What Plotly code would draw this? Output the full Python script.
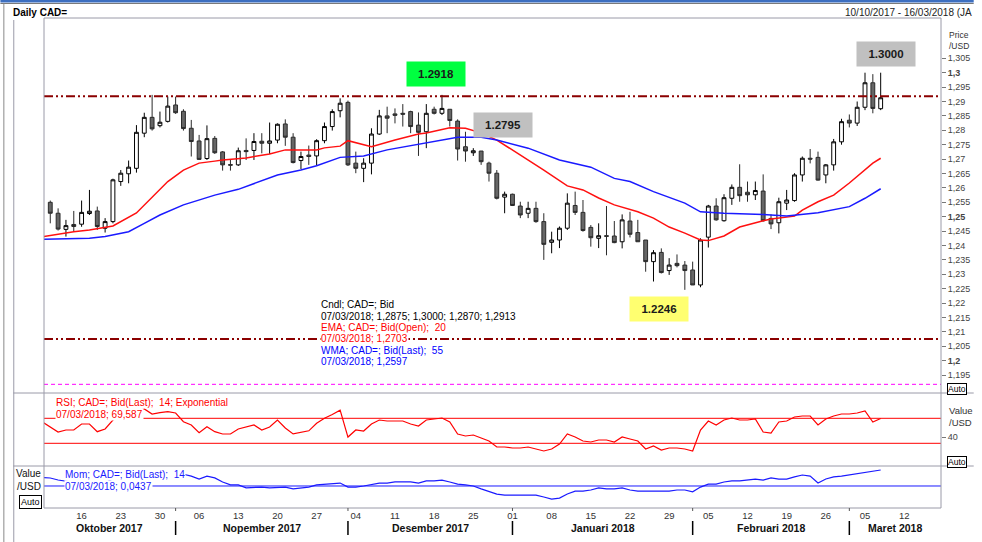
import plotly.graph_objects as go
import pandas as pd

# ---------------- data ----------------
all_days = pd.bdate_range("2017-10-10", "2018-03-16")   # axis spans to 16/03/2018
n_candles = 107                                           # 10/10/2017 .. 07/03/2018

opens = [1.2550,1.2512,1.2456,1.2473,1.2474,1.2511,1.2520,1.2460,1.2483,1.2622,
         1.2649,1.2668,1.2790,1.2845,1.2816,1.2831,1.2888,1.2866,1.2807,1.2763,
         1.2702,1.2772,1.2725,1.2681,1.2680,1.2730,1.2730,1.2762,1.2755,1.2766,
         1.2822,1.2776,1.2695,1.2714,1.2711,1.2764,1.2813,1.2868,1.2897,1.2686,
         1.2668,1.2686,1.2787,1.2850,1.2857,1.2859,1.2865,1.2818,1.2795,1.2873,
         1.2859,1.2873,1.2832,1.2743,1.2722,1.2728,1.2686,1.2651,1.2568,1.2578,
         1.2537,1.2512,1.2529,1.2483,1.2411,1.2419,1.2460,1.2539,1.2515,1.2463,
         1.2425,1.2434,1.2433,1.2413,1.2485,1.2445,1.2419,1.2344,1.2376,1.2313,
         1.2338,1.2332,1.2315,1.2263,1.2429,1.2537,1.2486,1.2564,1.2602,1.2585,
         1.2576,1.2589,1.2494,1.2479,1.2547,1.2556,1.2645,1.2703,1.2706,1.2645,
         1.2680,1.2760,1.2835,1.2825,1.2880,1.2965,1.2875]
highs = [1.2556,1.2529,1.2489,1.2520,1.2556,1.2593,1.2535,1.2495,1.2632,1.2662,
         1.2695,1.2818,1.2861,1.2923,1.2865,1.2917,1.2917,1.2873,1.2836,1.2784,
         1.2817,1.2780,1.2728,1.2697,1.2740,1.2772,1.2790,1.2790,1.2827,1.2824,
         1.2838,1.2790,1.2726,1.2747,1.2769,1.2827,1.2873,1.2911,1.2903,1.2726,
         1.2703,1.2807,1.2871,1.2882,1.2876,1.2891,1.2868,1.2862,1.2891,1.2882,
         1.2923,1.2873,1.2838,1.2795,1.2738,1.2728,1.2691,1.2662,1.2587,1.2580,
         1.2552,1.2552,1.2552,1.2512,1.2448,1.2466,1.2581,1.2587,1.2558,1.2471,
         1.2477,1.2537,1.2485,1.2508,1.2517,1.2489,1.2419,1.2384,1.2390,1.2356,
         1.2369,1.2346,1.2344,1.2425,1.2541,1.2564,1.2578,1.2612,1.2682,1.2622,
         1.2622,1.2647,1.2508,1.2566,1.2593,1.2651,1.2709,1.2735,1.2726,1.2683,
         1.2770,1.2840,1.2855,1.2900,1.3000,1.2995,1.3000]
lows = [1.2477,1.2452,1.2431,1.2448,1.2465,1.2506,1.2454,1.2445,1.2477,1.2607,
        1.2616,1.2653,1.2776,1.2799,1.2810,1.2827,1.2857,1.2799,1.2709,1.2697,
        1.2697,1.2718,1.2660,1.2660,1.2676,1.2697,1.2697,1.2720,1.2718,1.2755,
        1.2746,1.2685,1.2665,1.2680,1.2678,1.2755,1.2799,1.2845,1.2676,1.2651,
        1.2620,1.2647,1.2784,1.2790,1.2824,1.2813,1.2790,1.2711,1.2738,1.2855,
        1.2853,1.2813,1.2695,1.2691,1.2711,1.2680,1.2622,1.2560,1.2512,1.2537,
        1.2495,1.2495,1.2479,1.2350,1.2373,1.2391,1.2454,1.2506,1.2448,1.2396,
        1.2391,1.2366,1.2408,1.2390,1.2428,1.2413,1.2309,1.2275,1.2303,1.2298,
        1.2324,1.2246,1.2263,1.2255,1.2393,1.2486,1.2483,1.2541,1.2552,1.2552,
        1.2558,1.2483,1.2457,1.2442,1.2523,1.2552,1.2622,1.2685,1.2625,1.2616,
        1.2660,1.2750,1.2810,1.2815,1.2870,1.2859,1.2870]
closes = [1.2512,1.2457,1.2469,1.2466,1.2515,1.2519,1.2466,1.2483,1.2628,1.2651,
          1.2672,1.2793,1.2845,1.2805,1.2828,1.2884,1.2861,1.2806,1.2761,1.2699,
          1.2771,1.2722,1.2680,1.2679,1.2729,1.2726,1.2761,1.2755,1.2763,1.2821,
          1.2776,1.2688,1.2709,1.2709,1.2764,1.2813,1.2865,1.2894,1.2680,1.2668,
          1.2686,1.2787,1.2850,1.2842,1.2852,1.2856,1.2813,1.2793,1.2859,1.2859,
          1.2876,1.2834,1.2735,1.2728,1.2729,1.2691,1.2651,1.2564,1.2578,1.2539,
          1.2506,1.2529,1.2483,1.2404,1.2419,1.2460,1.2547,1.2515,1.2452,1.2427,
          1.2434,1.2432,1.2410,1.2489,1.2439,1.2413,1.2344,1.2375,1.2306,1.2332,
          1.2330,1.2313,1.2263,1.2419,1.2537,1.2489,1.2566,1.2602,1.2573,1.2576,
          1.2591,1.2486,1.2475,1.2552,1.2558,1.2645,1.2703,1.2700,1.2627,1.2680,
          1.2760,1.2830,1.2825,1.2880,1.2965,1.2876,1.2913]

ema_idx = [-1,3,5,8,11,13,15,17,19,21,22,25,28,30,32,34,35,37,38,41,44,47,48,51,53,55,
           57,59,61,63,66,68,70,72,75,77,79,81,83,84,86,88,91,92,95,96,98,100,102,105,106]
ema_val = [1.2430,1.2448,1.2454,1.2468,1.2513,1.2569,1.2622,1.2662,1.2686,1.2693,1.2697,
           1.2704,1.2718,1.2732,1.2732,1.2732,1.2739,1.2745,1.2764,1.2743,1.2766,1.2787,
           1.2791,1.2809,1.2807,1.2791,1.2766,1.2732,1.2697,1.2662,1.2607,1.2593,1.2565,
           1.2541,1.2517,1.2495,1.2464,1.2443,1.2419,1.2417,1.2433,1.2464,1.2486,1.2492,
           1.2502,1.2523,1.2552,1.2575,1.2617,1.2686,1.2703]

wma_idx = [-1,5,7,10,12,14,17,19,21,24,26,29,32,34,37,40,43,47,49,52,55,57,61,65,69,72,
           74,77,81,83,86,91,94,98,102,104,106]
wma_val = [1.2422,1.2425,1.2431,1.2448,1.2477,1.2506,1.2541,1.2558,1.2575,1.2595,1.2616,
           1.2645,1.2662,1.2677,1.2706,1.2711,1.2732,1.2752,1.2760,1.2776,1.2776,1.2766,
           1.2738,1.2697,1.2672,1.2633,1.2622,1.2587,1.2547,1.2517,1.2512,1.2508,1.2502,
           1.2514,1.2535,1.2564,1.2597]

ind_idx = list(range(-1, 107))
rsi_val = [64.1,
           56.0,48.1,51.3,51.3,60.9,60.9,48.6,52.9,67.3,72.0,
           74.0,82.0,84.9,76.9,79.0,80.6,78.5,64.6,59.3,47.0,
           56.6,48.6,44.9,44.9,52.9,56.0,59.3,51.3,56.0,67.3,
           54.5,45.0,48.0,50.0,62.0,70.0,76.0,83.0,40.0,51.3,
           49.7,60.9,67.3,65.7,65.7,65.7,60.9,57.7,67.3,68.9,
           70.5,64.1,44.9,41.7,43.3,38.5,33.7,24.1,24.1,22.5,
           22.5,24.1,20.9,17.7,20.9,28.9,44.9,40.1,33.7,32.1,
           35.3,35.3,32.1,40.1,36.9,33.7,20.9,25.7,19.3,22.5,
           22.5,20.9,17.7,51.3,65.7,59.3,67.3,70.5,67.3,67.3,
           68.9,48.1,46.5,64.1,65.7,72.1,73.7,73.7,59.3,68.9,
           73.7,76.9,76.9,78.5,81.7,64.1,69.587]
mom_val = [0.0230,
           0.0218,0.0164,0.0137,0.0100,0.0120,0.0100,0.0050,0.0080,0.0200,0.0220,
           0.0250,0.0330,0.0380,0.0350,0.0360,0.0420,0.0400,0.0320,0.0270,0.0190,
           0.0270,0.0220,0.0110,0.0030,0.0030,-0.0050,-0.0030,-0.0030,-0.0050,-0.0050,
           -0.0030,-0.0080,-0.0050,-0.0030,0.0030,0.0050,0.0050,0.0080,-0.0030,-0.0030,
           0.0000,0.0050,0.0080,0.0080,0.0110,0.0110,0.0110,0.0080,0.0140,0.0140,
           0.0160,0.0110,0.0050,0.0030,0.0000,-0.0080,-0.0140,-0.0220,-0.0250,-0.0250,
           -0.0270,-0.0270,-0.0250,-0.0300,-0.0360,-0.0330,-0.0220,-0.0140,-0.0140,-0.0110,
           -0.0050,-0.0080,-0.0080,-0.0050,-0.0110,-0.0140,-0.0140,-0.0140,-0.0160,-0.0140,
           -0.0110,-0.0110,-0.0160,-0.0030,0.0050,0.0050,0.0110,0.0140,0.0140,0.0160,
           0.0190,0.0160,0.0220,0.0190,0.0190,0.0250,0.0300,0.0270,0.0080,0.0190,
           0.0250,0.0270,0.0300,0.0330,0.0380,0.0410,0.0437]

resist_level = 1.2918
support_level = 1.2075
magenta_level = 1.1918
rsi_levels = [70, 30]

price_ticks = [round(1.195 + 0.005 * k, 3) for k in range(23)]
month_names = {10: "Oktober 2017", 11: "Nopember 2017", 12: "Desember 2017",
               1: "Januari 2018", 2: "Februari 2018", 3: "Maret 2018"}

# ---------------- geometry helpers ----------------
W, H = 982, 542
L, R, T, B = 44, 949, 18, 508
MAIN_BOT, RSI_BOT = 393, 466
FONT = "Liberation Sans, Arial, sans-serif"


def px(x):
    return (x - L) / (R - L)


def py(y):
    return (B - y) / (B - T)


idx = list(range(n_candles))
XR = [-0.8, 113.7]

fig = go.Figure()

fig.add_trace(go.Candlestick(
    x=idx, open=opens, high=highs, low=lows, close=closes,
    increasing=dict(line=dict(color="#000000", width=1), fillcolor="#ffffff"),
    decreasing=dict(line=dict(color="#2a2a2a", width=1), fillcolor="#666666"),
    whiskerwidth=0, xaxis="x", yaxis="y", hoverinfo="skip"))

fig.add_trace(go.Scatter(x=ema_idx, y=ema_val, mode="lines",
                         line=dict(color="#ff1010", width=1.5), xaxis="x", yaxis="y"))
fig.add_trace(go.Scatter(x=wma_idx, y=wma_val, mode="lines",
                         line=dict(color="#1a1aff", width=1.5), xaxis="x", yaxis="y"))

# last-value markers on the price axis
fig.add_trace(go.Scatter(x=[XR[1] + 0.25] * 3, y=[closes[-1], ema_val[-1], wma_val[-1]],
                         mode="markers", cliponaxis=False,
                         marker=dict(size=[6, 5, 5], symbol=["diamond", "circle", "circle"],
                                     color=["#000000", "#ff0000", "#0000ff"]),
                         xaxis="x", yaxis="y"))

fig.add_trace(go.Scatter(x=ind_idx, y=rsi_val, mode="lines",
                         line=dict(color="#ff0000", width=1.2), xaxis="x", yaxis="y2"))
fig.add_trace(go.Scatter(x=ind_idx, y=mom_val, mode="lines",
                         line=dict(color="#1a1aff", width=1.2), xaxis="x", yaxis="y3"))

shapes = []
# horizontal reference lines
shapes.append(dict(type="line", xref="paper", yref="y", x0=0, x1=1, y0=resist_level, y1=resist_level,
                   line=dict(color="#8b0000", width=2, dash="9px,3px,2px,3px,2px,3px")))
shapes.append(dict(type="line", xref="paper", yref="y", x0=0, x1=1, y0=support_level, y1=support_level,
                   line=dict(color="#8b0000", width=2, dash="9px,3px,2px,3px,2px,3px")))
shapes.append(dict(type="line", xref="paper", yref="y", x0=0, x1=1, y0=magenta_level, y1=magenta_level,
                   line=dict(color="#ff00ff", width=1, dash="4px,3px")))
for lv in rsi_levels:
    shapes.append(dict(type="line", xref="paper", yref="y2", x0=0, x1=1, y0=lv, y1=lv,
                       line=dict(color="#ff0000", width=1), layer="below"))
shapes.append(dict(type="line", xref="paper", yref="y3", x0=0, x1=1, y0=0, y1=0,
                   line=dict(color="#1a1aff", width=1), layer="below"))

FR = "#9a9aa8"
# frames
shapes.append(dict(type="rect", xref="paper", yref="paper", x0=0, x1=1, y0=0, y1=1,
                   line=dict(color=FR, width=1)))
for yy in (MAIN_BOT, RSI_BOT):
    shapes.append(dict(type="line", xref="paper", yref="paper", x0=px(13), x1=px(982),
                       y0=py(yy), y1=py(yy), line=dict(color=FR, width=1)))
# outer border / top bar
shapes.append(dict(type="rect", xref="paper", yref="paper", x0=px(0), x1=px(982), y0=py(0), y1=py(2.5),
                   fillcolor="#3d6fc0", line=dict(width=0)))
shapes.append(dict(type="line", xref="paper", yref="paper", x0=px(0), x1=px(982), y0=py(3.5), y1=py(3.5),
                   line=dict(color="#7a7a7a", width=1)))
shapes.append(dict(type="line", xref="paper", yref="paper", x0=px(3.5), x1=px(3.5), y0=py(3.5), y1=py(542),
                   line=dict(color="#8a8a8a", width=1)))
shapes.append(dict(type="line", xref="paper", yref="paper", x0=px(13.5), x1=px(13.5), y0=py(20), y1=py(542),
                   line=dict(color=FR, width=1)))

# month separators
month_starts = []
prev = None
for i, d in enumerate(all_days):
    if prev is not None and d.month != prev:
        month_starts.append(i)
    prev = d.month
for i in month_starts:
    shapes.append(dict(type="line", xref="x", yref="paper", x0=i, x1=i, y0=py(521), y1=py(535),
                       line=dict(color="#000000", width=1.5)))
    shapes.append(dict(type="line", xref="x", yref="paper", x0=i, x1=i, y0=py(508), y1=py(511),
                       line=dict(color="#555555", width=1)))

ann = []


def text(x, y, s, color="#000000", size=10, anchor="left", bold=False, bg=None, yanchor="middle"):
    d = dict(xref="paper", yref="paper", x=px(x), y=py(y), text=("<b>%s</b>" % s) if bold else s,
             showarrow=False, xanchor=anchor, yanchor=yanchor,
             font=dict(family=FONT, size=size, color=color), borderpad=0)
    if bg:
        d["bgcolor"] = bg
    ann.append(d)


text(12, 12, "Daily CAD=", size=10, bold=True)
text(981, 12, "10/10/2017 - 16/03/2018 (JA", size=10, color="#222222", anchor="right")

# value boxes
for (cx, cy, s, col) in [(440, 74, "1.2918", "#00ff40"), (507, 125, "1.2795", "#c0c0c0"),
                         (894, 54, "1.3000", "#c0c0c0"), (664, 309, "1.2246", "#ffff70")]:
    ann.append(dict(xref="paper", yref="paper", x=px(cx), y=py(cy), text="<b>%s</b>" % s,
                    showarrow=False, xanchor="center", yanchor="middle", bgcolor=col,
                    width=54, height=20, borderpad=2,
                    font=dict(family=FONT, size=11.5, color="#1a1a1a")))

# legend block
NB = "\u00a0"
leg = [(305, "Cndl; CAD=; Bid", "#000000"),
       (316.5, "07/03/2018; 1,2875; 1,3000; 1,2870; 1,2913", "#000000"),
       (327.5, "EMA; CAD=; Bid(Open);" + NB + " 20", "#ff0000"),
       (338.5, "07/03/2018; 1,2703", "#ff0000"),
       (350, "WMA; CAD=; Bid(Last);" + NB + " 55", "#0000ff"),
       (361, "07/03/2018; 1,2597", "#0000ff")]
for y, s, c in leg:
    text(322, y, s, color=c, size=10, bg="#ffffff")

text(55, 402.5, "RSI; CAD=; Bid(Last);" + NB + " 14; Exponential", color="#ff0000", size=10, bg="#ffffff")
text(55, 414, "07/03/2018; 69,587", color="#ff0000", size=10, bg="#ffffff")
text(64, 474, "Mom; CAD=; Bid(Last);" + NB + " 14", color="#1a1aff", size=10, bg="#ffffff")
text(64, 486, "07/03/2018; 0,0437", color="#1a1aff", size=10, bg="#ffffff")

# axis captions
text(956, 35, "Price", color="#333333", size=8.5)
text(956, 46, "/USD", color="#333333", size=8.5)
text(956, 410, "Value", color="#333333", size=9.5)
text(956, 422, "/USD", color="#333333", size=9.5)
text(42, 473, "Value", color="#111111", size=10, anchor="right")
text(42, 486, "/USD", color="#111111", size=10, anchor="right")
for (x0, yc) in [(955, 389), (955, 461.5)]:
    ann.append(dict(xref="paper", yref="paper", x=px(x0), y=py(yc), text="Auto", showarrow=False,
                    xanchor="left", yanchor="middle", bordercolor="#000000", borderwidth=1, borderpad=0,
                    bgcolor="#ffffff", font=dict(family=FONT, size=8.5, color="#000000")))
ann.append(dict(xref="paper", yref="paper", x=px(42), y=py(502), text="Auto", showarrow=False,
                xanchor="right", yanchor="middle", bordercolor="#000000", borderwidth=1, borderpad=1,
                bgcolor="#ffffff", font=dict(family=FONT, size=9, color="#000000")))

# month labels centred on their visible span
bounds = [XR[0]] + month_starts + [XR[1]]
months_in_view = [all_days[0].month] + [all_days[i].month for i in month_starts]
for k, m in enumerate(months_in_view):
    cx = (bounds[k] + bounds[k + 1]) / 2
    ann.append(dict(xref="x", yref="paper", x=cx, y=py(528), text="<b>%s</b>" % month_names[m],
                    showarrow=False, xanchor="center", yanchor="middle",
                    font=dict(family=FONT, size=10.5, color="#111111")))

mondays = [i for i, d in enumerate(all_days) if d.weekday() == 0]
monday_txt = [all_days[i].strftime("%d") for i in mondays]

tick_txt = []
for v in price_ticks:
    s = ("%g" % v).replace(".", ",")
    if abs(v * 100 - round(v * 100)) < 1e-6 and round(v * 1000) % 50 == 0:
        tick_txt.append("<b>%s</b>" % s)
    else:
        tick_txt.append(s)

fig.update_layout(
    width=W, height=H, margin=dict(l=L, r=W - R, t=T, b=H - B),
    paper_bgcolor="#ffffff", plot_bgcolor="#ffffff", showlegend=False,
    font=dict(family=FONT),
    shapes=shapes, annotations=ann,
    xaxis=dict(range=XR, domain=[0, 1], anchor="y3", tickvals=mondays, ticktext=monday_txt,
               tickfont=dict(size=9.5, color="#333333"), showgrid=False, zeroline=False,
               showline=False, ticks="", rangeslider=dict(visible=False), fixedrange=True),
    yaxis=dict(domain=[py(MAIN_BOT), 1], range=[1.3 - (MAIN_BOT - 72.7) / 2880, 1.3 + (72.7 - T) / 2880],
               side="right", anchor="x", tickvals=price_ticks, ticktext=tick_txt,
               ticks="outside", ticklen=4, tickcolor="#777777",
               tickfont=dict(size=9, color="#444444"), showgrid=False, zeroline=False, showline=False),
    yaxis2=dict(domain=[py(RSI_BOT), py(MAIN_BOT)], range=[-6.3, 110.5], side="right", anchor="x",
                tickvals=[40], ticktext=["40"], ticks="outside", ticklen=4, tickcolor="#777777",
                tickfont=dict(size=9, color="#444444"), showgrid=False, zeroline=False, showline=False),
    yaxis3=dict(domain=[0, py(RSI_BOT)], range=[-0.0601, 0.0546], side="right", anchor="x",
                showticklabels=False, ticks="", showgrid=False, zeroline=False, showline=False),
)

fig.write_html("out.html")
